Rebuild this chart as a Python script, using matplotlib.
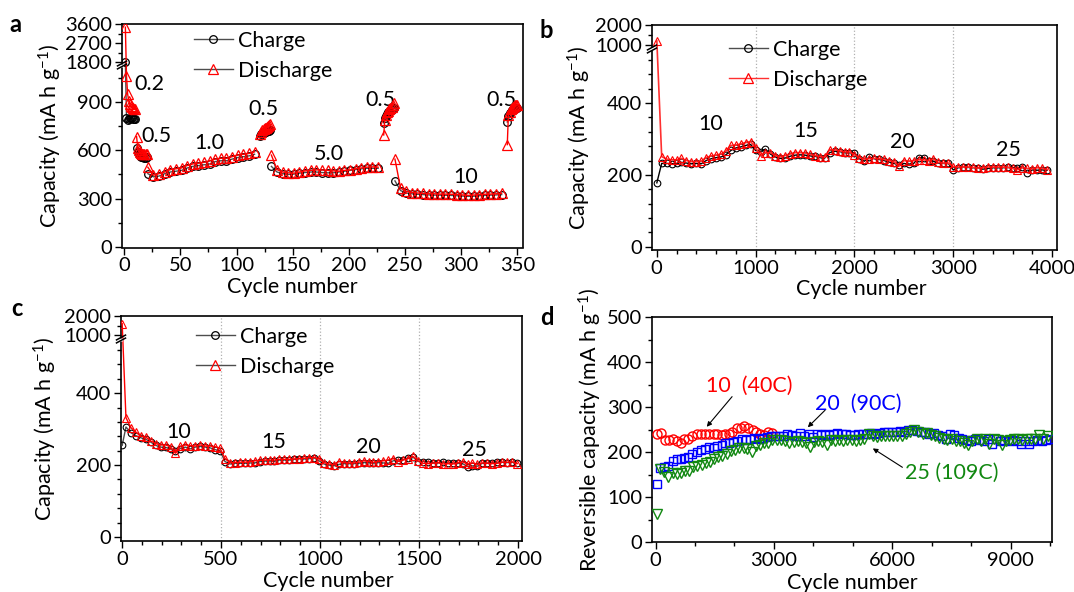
import numpy as np
import matplotlib
matplotlib.use("Agg")
import matplotlib.pyplot as plt
from matplotlib.ticker import FixedLocator, MultipleLocator
from matplotlib.lines import Line2D

plt.rcParams["font.family"] = ["Lato", "DejaVu Sans"]
plt.rcParams["mathtext.fontset"] = "custom"
plt.rcParams["mathtext.rm"] = "Lato"
plt.rcParams["mathtext.it"] = "Lato:italic"

# ---------------- data ----------------
# (a) rate capability, current density labels in A g-1
a_cycles = (list(range(1, 21)) + list(range(21, 117, 5)) + list(range(121, 131))
            + list(range(131, 227, 5)) + list(range(231, 241))
            + list(range(241, 337, 5)) + list(range(341, 351)))
# number of points measured at each current density, in order
a_segments = [10, 10, 20, 10, 20, 10, 20, 10]
a_discharge = [3450, 1060, 950, 905, 885, 875, 868, 862, 858, 855,
               685, 615, 600, 590, 582, 578, 576, 575, 575, 576,
               495, 445, 455, 465, 480, 485, 490, 505, 515, 520,
               525, 535, 545, 550, 550, 560, 570, 575, 580, 590,
               700, 715, 725, 730, 735, 740, 745, 750, 755, 760,
               570, 480, 465, 460, 458, 465, 472, 475, 478, 478,
               475, 472, 470, 475, 478, 485, 490, 495, 497, 495,
               695, 790, 820, 835, 845, 855, 862, 870, 880, 890,
               545, 365, 345, 338, 335, 332, 330, 330, 328, 328,
               327, 325, 323, 320, 322, 325, 327, 328, 330, 332,
               635, 820, 840, 855, 865, 870, 875, 878, 880, 882]
a_charge = [1750, 800, 790, 795, 800, 798, 797, 796, 795, 795,
            617, 590, 575, 565, 560, 558, 556, 555, 555, 556,
            455, 435, 440, 455, 465, 470, 475, 490, 500, 505,
            510, 515, 530, 535, 535, 545, 555, 560, 565, 575,
            690, 700, 705, 710, 712, 715, 718, 720, 722, 725,
            500, 465, 455, 450, 452, 458, 462, 465, 465, 462,
            460, 460, 465, 470, 475, 480, 485, 488, 488, 488,
            770, 800, 815, 825, 835, 840, 845, 850, 855, 860,
            410, 350, 335, 330, 327, 325, 323, 322, 322, 321,
            320, 318, 316, 314, 315, 318, 320, 322, 323, 325,
            775, 815, 830, 840, 848, 852, 856, 858, 860, 862]
a_rate_labels = ["0.2", "0.5", "1.0", "0.5", "5.0", "0.5", "10", "0.5"]
a_rate_x = [22, 29, 76, 124, 182, 228, 304, 336]
a_rate_y = [1012, 689, 646, 857, 578, 913, 435, 913]

# (b) long cycling, 10 -> 25 A g-1
b_cycles = [1] + list(range(50, 4000, 50))
b_discharge = [1200, 251, 244, 242, 242, 246, 240, 237, 237, 238,
               248, 253, 255, 258, 266, 282, 283, 286, 290, 293,
               276, 254, 262, 262, 254, 250, 254, 258, 262, 262,
               261, 257, 254, 251, 249, 270, 270, 267, 264, 264,
               256, 248, 244, 245, 246, 245, 243, 240, 237, 224,
               240, 238, 240, 242, 242, 240, 244, 235, 233, 233,
               223, 222, 222, 222, 221, 219, 220, 222, 222, 222,
               222, 221, 218, 215, 220, 218, 217, 220, 218, 215]
b_charge = [178, 232, 232, 231, 232, 235, 233, 231, 232, 231,
            240, 245, 248, 250, 256, 268, 275, 278, 282, 285,
            268, 265, 272, 258, 250, 246, 247, 252, 255, 256,
            255, 253, 252, 248, 247, 262, 266, 265, 262, 262,
            262, 245, 238, 250, 245, 243, 240, 236, 232, 228,
            232, 230, 232, 248, 248, 240, 238, 233, 232, 232,
            214, 220, 222, 221, 220, 220, 216, 218, 220, 220,
            220, 221, 220, 218, 222, 206, 214, 213, 214, 213]
b_rate_labels = ["10", "15", "20", "25"]
b_rate_x = [550, 1511, 2487, 3556]
b_rate_y = [342, 323, 292, 269]

# (c) long cycling, 10 -> 25 A g-1
c_cycles = [1] + list(range(20, 2000, 25))
c_discharge = [1600, 332, 304, 292, 280, 278, 267, 260, 256, 256,
               251, 233, 252, 256, 254, 253, 256, 253, 253, 251,
               247, 218, 207, 207, 208, 208, 209, 212, 213, 214,
               214, 214, 216, 216, 216, 217, 218, 219, 221, 221,
               218, 207, 203, 201, 210, 207, 206, 206, 208, 212,
               210, 208, 210, 212, 214, 218, 210, 214, 218, 224,
               212, 205, 204, 205, 207, 203, 204, 203, 206, 209,
               203, 206, 202, 206, 205, 204, 205, 208, 208, 209, 204]
c_charge = [255, 306, 290, 282, 276, 272, 264, 255, 250, 249,
            246, 238, 246, 250, 245, 250, 252, 250, 248, 243,
            240, 210, 203, 205, 205, 205, 206, 206, 210, 211,
            212, 211, 214, 214, 214, 216, 218, 217, 218, 220,
            212, 203, 200, 198, 202, 204, 204, 204, 205, 207,
            207, 206, 207, 206, 205, 212, 214, 215, 220, 222,
            210, 210, 210, 207, 206, 208, 206, 206, 205, 204,
            196, 198, 197, 205, 206, 207, 208, 208, 207, 208, 205]
c_rate_labels = ["10", "15", "20", "25"]
c_rate_x = [285, 766, 1246, 1779]
c_rate_y = [292, 264, 250, 241]

# (d) reversible capacity at 10, 20 and 25 A g-1
d10_cycles = [30, 130, 240, 340, 450, 540, 640, 730, 830, 930,
              1040, 1150, 1260, 1360, 1470, 1570, 1680, 1760, 1850, 1950,
              2060, 2160, 2250, 2350, 2460, 2550, 2650, 2750, 2860, 2960]
d10_capacity = [241, 243, 227, 227, 228, 225, 221, 230, 230, 236,
                241, 240, 241, 241, 241, 240, 238, 240, 240, 245,
                253, 254, 258, 254, 250, 245, 241, 238, 245, 243]
d20_cycles = [30, 110, 220, 320, 430, 540, 640, 730, 830, 930,
              1040, 1150, 1260, 1360, 1470, 1570, 1680, 1760, 1860, 1970,
              2070, 2190, 2290, 2400, 2500, 2610, 2710, 2820, 2920, 3030,
              3130, 3240, 3340, 3450, 3560, 3660, 3770, 3880, 3980, 4090,
              4190, 4300, 4400, 4510, 4610, 4720, 4820, 4930, 5030, 5140,
              5250, 5360, 5460, 5570, 5670, 5780, 5880, 5990, 6090, 6200,
              6300, 6410, 6510, 6620, 6730, 6840, 6940, 7050, 7150, 7260,
              7360, 7470, 7570, 7680, 7780, 7890, 7990, 8100, 8210, 8320,
              8420, 8530, 8630, 8740, 8840, 8950, 9050, 9160, 9260, 9370,
              9470, 9580, 9680, 9790, 9900, 10000]
d20_capacity = [128, 164, 166, 169, 180, 184, 184, 187, 190, 196,
                199, 204, 206, 212, 210, 213, 216, 219, 220, 223,
                224, 228, 227, 230, 232, 230, 232, 234, 235, 235,
                236, 235, 241, 238, 236, 243, 235, 240, 234, 240,
                238, 241, 238, 240, 243, 241, 240, 238, 238, 241,
                240, 241, 243, 241, 243, 245, 245, 245, 245, 247,
                245, 249, 250, 247, 245, 245, 241, 243, 238, 235,
                230, 241, 238, 232, 228, 227, 225, 228, 227, 225,
                228, 218, 228, 225, 227, 225, 227, 225, 218, 225,
                218, 225, 227, 225, 226, 228]
d25_cycles = [30, 110, 220, 320, 430, 540, 640, 750, 850, 960,
              1060, 1170, 1270, 1380, 1480, 1590, 1690, 1800, 1910, 2020,
              2120, 2230, 2330, 2440, 2540, 2650, 2750, 2860, 2960, 3070,
              3180, 3280, 3390, 3500, 3600, 3710, 3810, 3920, 4020, 4130,
              4230, 4340, 4440, 4550, 4650, 4760, 4860, 4970, 5080, 5190,
              5290, 5400, 5500, 5610, 5710, 5820, 5920, 6030, 6130, 6240,
              6340, 6450, 6560, 6660, 6770, 6880, 6980, 7090, 7190, 7300,
              7400, 7510, 7610, 7720, 7820, 7930, 8030, 8140, 8250, 8360,
              8460, 8570, 8670, 8780, 8880, 8990, 9090, 9200, 9300, 9410,
              9510, 9620, 9720, 9830, 9940]
d25_capacity = [62, 162, 156, 145, 153, 152, 153, 158, 158, 166,
                169, 171, 175, 178, 184, 188, 191, 196, 203, 204,
                208, 208, 206, 201, 213, 216, 219, 220, 227, 226,
                227, 225, 220, 222, 225, 222, 219, 212, 222, 225,
                222, 216, 227, 225, 227, 225, 227, 227, 225, 227,
                230, 241, 235, 234, 235, 236, 235, 235, 235, 236,
                240, 245, 250, 245, 241, 243, 238, 235, 232, 228,
                227, 228, 225, 225, 220, 216, 225, 228, 225, 228,
                218, 228, 227, 216, 225, 227, 228, 228, 227, 228,
                228, 230, 238, 230, 235]

# ---------------- figure ----------------
W, H = 1074, 592
fig = plt.figure(figsize=(W / 100, H / 100), dpi=100)
FS = 14.5
RED = "#ff0000"
BLUE = "#0000ff"
GREEN = "#118811"


def add_axes(left, right, top, bottom):
    return fig.add_axes([left / W, 1 - bottom / H, (right - left) / W, (bottom - top) / H])


def piecewise(xp, fp):
    xp = np.asarray(xp, float)
    fp = np.asarray(fp, float)
    s0 = (fp[1] - fp[0]) / (xp[1] - xp[0])
    s1 = (fp[-1] - fp[-2]) / (xp[-1] - xp[-2])

    def f(v):
        v = np.asarray(v, float)
        out = np.interp(v, xp, fp)
        out = np.where(v < xp[0], fp[0] + (v - xp[0]) * s0, out)
        out = np.where(v > xp[-1], fp[-1] + (v - xp[-1]) * s1, out)
        return out
    return f


def broken_scale(ax, vals, pos):
    fwd = piecewise(vals, pos)
    inv = piecewise(pos, vals)
    ax.set_yscale("function", functions=(fwd, inv))
    return fwd


def draw_break(ax, fwd, ylim, p_lo, p_hi):
    lo, hi = fwd(ylim[0]), fwd(ylim[1])
    f_lo = (p_lo - lo) / (hi - lo)
    f_hi = (p_hi - lo) / (hi - lo)
    bb = ax.get_position()
    dx = 4.5 / (bb.width * W)
    dy = 2.4 / (bb.height * H)
    ax.plot([0, 0], [f_lo, f_hi], transform=ax.transAxes, color="white",
            lw=2.2, clip_on=False, zorder=5, solid_capstyle="butt")
    for f in (f_lo, f_hi):
        ax.plot([-dx, dx], [f - dy, f + dy], transform=ax.transAxes,
                color="black", lw=1.1, clip_on=False, zorder=6)


def style(ax):
    for s in ("top", "right", "left", "bottom"):
        ax.spines[s].set_linewidth(1.2)
    ax.tick_params(which="both", direction="out", top=False, right=False,
                   labelsize=FS, width=1.0, pad=2)
    ax.tick_params(which="major", length=5)
    ax.tick_params(which="minor", length=3)


def cd_legend(ax, x_px, y_px, dis_color):
    handles = [
        Line2D([], [], color="0.3", lw=1.0, marker="o", ms=5.5, mfc="none",
               mec="black", mew=0.9),
        Line2D([], [], color=dis_color, lw=1.0, marker="^", ms=6.5, mfc="none",
               mec=RED, mew=0.9),
    ]
    ax.legend(handles, ["Charge", "Discharge"], loc="upper left",
              bbox_to_anchor=(x_px / W, 1 - y_px / H), bbox_transform=fig.transFigure,
              frameon=False, fontsize=FS + 1, handlelength=1.8, handletextpad=0.25,
              labelspacing=0.45, borderpad=0, borderaxespad=0)


# ---- (a) ----
ax = add_axes(122, 523, 24, 247.5)
fwd_a = broken_scale(ax, [0, 1110, 1800, 3600], [0, 179, 185, 223])
ylim_a = (-3, 3600)
ax.set_xlim(-2, 355)
ax.set_ylim(*ylim_a)
start = 0
for n in a_segments:
    sl = slice(start, start + n)
    ax.plot(a_cycles[sl], a_charge[sl], color="0.3", lw=1.0, marker="o", ms=5.5,
            mfc="none", mec="black", mew=0.9, zorder=3)
    ax.plot(a_cycles[sl], a_discharge[sl], color=RED, lw=1.0, marker="^", ms=6.5,
            mfc="none", mec=RED, mew=0.9, zorder=4)
    start += n
for t, x, y in zip(a_rate_labels, a_rate_x, a_rate_y):
    ax.text(x, y, t, fontsize=FS + 1, ha="center", va="center")
ax.yaxis.set_major_locator(FixedLocator([0, 300, 600, 900, 1800, 2700, 3600]))
ax.yaxis.set_minor_locator(FixedLocator([150, 450, 750, 1050, 2250, 3150]))
ax.xaxis.set_major_locator(MultipleLocator(50))
ax.xaxis.set_minor_locator(MultipleLocator(25))
style(ax)
ax.set_xlabel("Cycle number", fontsize=FS + 1)
ax.set_ylabel(r"Capacity (mA h g$^{\mathregular{-1}}$)", fontsize=FS + 1)
ax.xaxis.set_label_coords(0.424, -0.13)
ax.yaxis.set_label_coords(-0.145, 0.5)
draw_break(ax, fwd_a, ylim_a, 180.5, 183.5)
cd_legend(ax, 194, 31, "0.3")

# ---- (b) ----
ax = add_axes(652, 1057, 25, 250)
fwd_b = broken_scale(ax, [0, 545, 1000, 2000], [0, 196, 202, 222])
ylim_b = (-9, 2000)
ax.set_xlim(-48, 4050)
ax.set_ylim(*ylim_b)
for xv in (1000, 2000, 3000):
    ax.axvline(xv, color="#b0b0b0", ls=":", lw=0.9, zorder=0)
ax.plot(b_cycles, b_charge, color="black", lw=1.0, marker="o", ms=4.8, mfc="none",
        mec="black", mew=0.8, zorder=3)
ax.plot(b_cycles, b_discharge, color="#ff3030", lw=1.2, marker="^", ms=5.5, mfc="none",
        mec=RED, mew=0.8, zorder=4)
for t, x, y in zip(b_rate_labels, b_rate_x, b_rate_y):
    ax.text(x, y, t, fontsize=FS + 1, ha="center", va="center")
ax.yaxis.set_major_locator(FixedLocator([0, 200, 400, 1000, 2000]))
ax.yaxis.set_minor_locator(FixedLocator([40, 80, 120, 160, 240, 280, 320, 360,
                                         440, 480, 520, 1500]))
ax.xaxis.set_major_locator(MultipleLocator(1000))
ax.xaxis.set_minor_locator(MultipleLocator(200))
style(ax)
ax.set_xlabel("Cycle number", fontsize=FS + 1)
ax.set_ylabel(r"Capacity (mA h g$^{\mathregular{-1}}$)", fontsize=FS + 1)
ax.xaxis.set_label_coords(0.516, -0.13)
ax.yaxis.set_label_coords(-0.146, 0.5)
draw_break(ax, fwd_b, ylim_b, 196.5, 199.5)
cd_legend(ax, 729, 40, "#ff3030")

# ---- (c) ----
ax = add_axes(121, 522, 316, 541)
fwd_c = broken_scale(ax, [0, 545, 1000, 2000], [0, 196, 201.7, 221])
ylim_c = (-11, 2000)
ax.set_xlim(-5, 2020)
ax.set_ylim(*ylim_c)
for xv in (500, 1000, 1500):
    ax.axvline(xv, color="#b0b0b0", ls=":", lw=0.9, zorder=0)
ax.plot(c_cycles, c_charge, color="0.3", lw=1.0, marker="o", ms=4.8, mfc="none",
        mec="black", mew=0.8, zorder=3)
ax.plot(c_cycles, c_discharge, color=RED, lw=1.0, marker="^", ms=5.5, mfc="none",
        mec=RED, mew=0.8, zorder=4)
for t, x, y in zip(c_rate_labels, c_rate_x, c_rate_y):
    ax.text(x, y, t, fontsize=FS + 1, ha="center", va="center")
ax.yaxis.set_major_locator(FixedLocator([0, 200, 400, 1000, 2000]))
ax.yaxis.set_minor_locator(FixedLocator([40, 80, 120, 160, 240, 280, 320, 360,
                                         440, 480, 520, 1500]))
ax.xaxis.set_major_locator(MultipleLocator(500))
ax.xaxis.set_minor_locator(MultipleLocator(100))
style(ax)
ax.set_xlabel("Cycle number", fontsize=FS + 1)
ax.set_ylabel(r"Capacity (mA h g$^{\mathregular{-1}}$)", fontsize=FS + 1)
ax.xaxis.set_label_coords(0.517, -0.135)
ax.yaxis.set_label_coords(-0.155, 0.5)
draw_break(ax, fwd_c, ylim_c, 196.5, 199.5)
cd_legend(ax, 196, 327, "0.3")

# ---- (d) ----
ax = add_axes(652, 1052, 317, 542)
ax.set_xlim(-90, 10050)
ax.set_ylim(0, 500)
ax.plot(d10_cycles, d10_capacity, ls="none", marker="o", ms=6.5, mfc="none",
        mec=RED, mew=1.0, zorder=3)
ax.plot(d20_cycles, d20_capacity, ls="none", marker="s", ms=6.0, mfc="none",
        mec=BLUE, mew=1.0, zorder=3)
ax.plot(d25_cycles, d25_capacity, ls="none", marker="v", ms=7.0, mfc="none",
        mec=GREEN, mew=1.0, zorder=4)
arrow = dict(arrowstyle="-|>", color="black", lw=0.8, mutation_scale=7,
             shrinkA=0, shrinkB=0)
ax.annotate("", xy=(1298, 256), xytext=(1940, 323), arrowprops=arrow)
ax.annotate("", xy=(3859, 255), xytext=(4298, 293), arrowprops=arrow)
ax.annotate("", xy=(5507, 208), xytext=(6258, 166), arrowprops=arrow)
ax.text(2371, 347, "10  (40C)", color=RED, fontsize=FS + 1, ha="center", va="center")
ax.text(5134, 307, "20  (90C)", color=BLUE, fontsize=FS + 1, ha="center", va="center")
ax.text(7518, 153, "25 (109C)", color=GREEN, fontsize=FS + 1, ha="center", va="center")
ax.xaxis.set_major_locator(MultipleLocator(3000))
ax.xaxis.set_minor_locator(MultipleLocator(1000))
ax.yaxis.set_major_locator(MultipleLocator(100))
ax.yaxis.set_minor_locator(MultipleLocator(50))
style(ax)
ax.set_xlabel("Cycle number", fontsize=FS + 1)
ax.set_ylabel(r"Reversible capacity (mA h g$^{\mathregular{-1}}$)", fontsize=FS + 1)
ax.xaxis.set_label_coords(0.5, -0.138)
ax.yaxis.set_label_coords(-0.12, 0.5)

# panel letters
for letter, x, y in (("a", 15.5, 25), ("b", 546, 31), ("c", 17, 309), ("d", 547, 317)):
    fig.text(x / W, 1 - y / H, letter, fontsize=17, fontweight="bold",
             ha="center", va="center")

fig.savefig("out.png", dpi=100)
